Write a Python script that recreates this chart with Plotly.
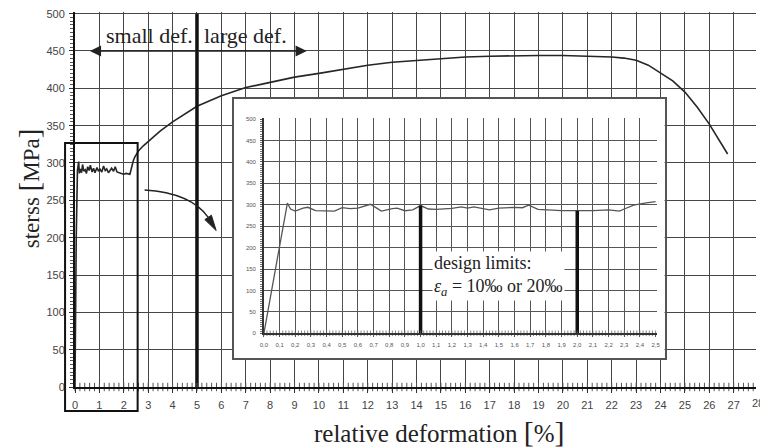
import numpy as np
import plotly.graph_objects as go

# ---------------- data ----------------
# main stress-strain curve (relative deformation in %, stress in MPa)
main_x = [0.0, 0.02, 0.05, 0.1, 0.15, 0.18, 0.22, 0.27, 0.31, 0.36, 0.42, 0.47, 0.52, 0.58,
          0.63, 0.7, 0.76, 0.82, 0.9, 0.96, 1.02, 1.1, 1.17, 1.24, 1.3, 1.37, 1.44, 1.5,
          1.58, 1.65, 1.72, 1.78, 1.9, 2.0, 2.1, 2.25, 2.32, 2.39, 2.45,
          2.6, 2.8, 3.0, 3.5, 4.0, 4.5, 5.0, 6.0, 7.0, 8.0, 9.0, 10.0, 11.0, 12.0, 13.0,
          14.0, 15.0, 16.0, 17.0, 18.0, 19.0, 20.0, 21.0, 22.0, 22.5, 23.0, 23.5, 24.0,
          24.5, 25.0, 25.5, 26.0, 26.5, 26.75]
main_y = [0, 100, 200, 290, 302, 286, 292, 287, 298, 289, 291, 286, 295, 290,
          297, 288, 293, 287, 294, 289, 292, 288, 296, 290, 292, 287, 291, 293,
          289, 295, 288, 287, 286, 285, 286, 285, 295, 303, 308,
          316, 323, 329, 343, 355, 366, 376, 390, 401, 408, 415, 420, 426, 431, 435,
          437.5, 440, 442, 443, 444, 444, 444, 443.3, 442, 440.5, 437.5, 431, 421,
          410, 395, 375, 352, 326, 312]

# inset: zoom of the first 2.5 %
inset_x = [0.0, 0.15, 0.17, 0.2, 0.25, 0.28, 0.33, 0.4, 0.45, 0.5, 0.55, 0.6, 0.65, 0.68,
           0.72, 0.75, 0.82, 0.85, 0.9, 0.95, 1.0, 1.05, 1.1, 1.15, 1.2, 1.26, 1.3, 1.34,
           1.4, 1.44, 1.5, 1.6, 1.65, 1.69, 1.75, 1.8, 1.9, 2.0, 2.1, 2.2, 2.27, 2.3,
           2.36, 2.44, 2.5]
inset_y = [0, 304, 290, 285, 292, 294, 286, 285, 285, 293, 291, 292, 298, 301,
           292, 285, 291, 292, 286, 288, 298, 290, 289, 290, 291.5, 295, 292, 295,
           290, 288, 292, 294, 293, 299, 289, 288, 286, 286, 286, 288, 285, 290,
           299, 304.5, 307]

small_large_limit = 5.0          # % boundary small / large deformation
design_limits = [1.0, 2.0]       # design limits (10 ‰, 20 ‰) in %

main_xtick_step = 1
main_ytick_step = 50
inset_xtick_step = 0.1
inset_ytick_step = 50

# ---------------- geometry helpers ----------------
W, H = 760, 447
ML, MR, MT, MB = 75, 0, 12, 60
PW, PH = W - ML - MR, H - MT - MB


def px(x):
    return (x - ML) / PW


def py(y):
    return (H - MB - y) / PH


SERIF = "Liberation Serif, Times New Roman, serif"
SANS = "Liberation Sans, Arial, sans-serif"
GRID = "#464646"

xrange_max = PW / 24.54
yrange_max = PH / 0.7467
inset_xmax = 395 / 157.6
inset_ymax = 215.3 / 0.4286

fig = go.Figure()

# main curve
fig.add_trace(go.Scatter(x=main_x, y=main_y, mode="lines",
                         line=dict(color="#262626", width=1.6),
                         xaxis="x", yaxis="y", hoverinfo="skip"))
# boundary small / large deformation
fig.add_trace(go.Scatter(x=[small_large_limit, small_large_limit], y=[0, 500], mode="lines",
                         line=dict(color="#111111", width=3.5),
                         xaxis="x", yaxis="y", hoverinfo="skip"))
# minor tick marks on the main x axis
mx = np.arange(0, xrange_max, 0.2)
fig.add_trace(go.Scatter(x=mx, y=np.zeros_like(mx), mode="markers", cliponaxis=False,
                         marker=dict(symbol="line-ns", size=6,
                                     line=dict(color="#555", width=1)),
                         xaxis="x", yaxis="y", hoverinfo="skip"))
# inset frame subplot (empty)
fig.add_trace(go.Scatter(x=[None], y=[None], mode="lines", xaxis="x2", yaxis="y2",
                         hoverinfo="skip"))
# inset curve
fig.add_trace(go.Scatter(x=inset_x, y=inset_y, mode="lines",
                         line=dict(color="#555555", width=1.3),
                         xaxis="x3", yaxis="y3", hoverinfo="skip"))
# design limit lines
for d in design_limits:
    top = float(np.interp(d, inset_x, inset_y))
    fig.add_trace(go.Scatter(x=[d, d], y=[0, top], mode="lines",
                             line=dict(color="#111111", width=3.5),
                             xaxis="x3", yaxis="y3", hoverinfo="skip"))
# minor tick marks on the inset x axis
ix = np.arange(0, 2.501, 0.02)
fig.add_trace(go.Scatter(x=ix, y=np.zeros_like(ix), mode="markers", cliponaxis=False,
                         marker=dict(symbol="line-ns", size=4,
                                     line=dict(color="#666", width=0.8)),
                         xaxis="x3", yaxis="y3", hoverinfo="skip"))

# ---------------- axes ----------------
fig.update_layout(
    width=W, height=H,
    margin=dict(l=ML, r=MR, t=MT, b=MB),
    paper_bgcolor="white", plot_bgcolor="white",
    showlegend=False,
    separators=",.",
    xaxis=dict(domain=[0, 1], range=[0, xrange_max], tickmode="linear", tick0=0,
               dtick=main_xtick_step,
               showgrid=True, gridcolor=GRID, gridwidth=1.3, zeroline=False,
               showline=True, linecolor="#111", linewidth=2,
               ticks="outside", ticklen=4, tickcolor="#333", ticklabelstandoff=3,
               tickfont=dict(family=SANS, size=11, color="#444"), anchor="y"),
    yaxis=dict(domain=[0, 1], range=[0, yrange_max], tickmode="linear", tick0=0,
               dtick=main_ytick_step,
               showgrid=True, gridcolor=GRID, gridwidth=1.3, zeroline=False,
               showline=True, linecolor="#111", linewidth=2,
               ticks="outside", ticklen=4, tickcolor="#333", ticklabelstandoff=2,
               minor=dict(dtick=5, ticks="outside", ticklen=3, tickcolor="#555", showgrid=False),
               tickfont=dict(family=SANS, size=11, color="#444"), anchor="x"),
    # inset frame
    xaxis2=dict(domain=[px(235), px(668)], range=[0, 1], showgrid=False, zeroline=False,
                showline=True, mirror=True, linecolor="#555", linewidth=2,
                showticklabels=False, ticks="", anchor="y2"),
    yaxis2=dict(domain=[py(358), py(99)], range=[0, 1], showgrid=False, zeroline=False,
                showline=True, mirror=True, linecolor="#555", linewidth=2,
                showticklabels=False, ticks="", anchor="x2"),
    # inset plot
    xaxis3=dict(domain=[px(265), px(660)], range=[0, inset_xmax], tickmode="linear",
                tick0=0, dtick=inset_xtick_step,
                tickformat=".1f", showgrid=True, gridcolor="#555", gridwidth=1,
                zeroline=False, showline=True, linecolor="#333", linewidth=1.5,
                ticks="outside", ticklen=2, tickcolor="#555", ticklabelstandoff=3,
                tickfont=dict(family=SANS, size=6, color="#555"), anchor="y3"),
    yaxis3=dict(domain=[py(333.3), py(118)], range=[0, inset_ymax], tickmode="linear",
                tick0=0, dtick=inset_ytick_step,
                showgrid=True, gridcolor="#555", gridwidth=1,
                zeroline=False, showline=True, linecolor="#333", linewidth=1.5,
                ticks="outside", ticklen=2, tickcolor="#555", ticklabelstandoff=3,
                minor=dict(dtick=5, ticks="outside", ticklen=2, tickcolor="#777", showgrid=False),
                tickfont=dict(family=SANS, size=6, color="#555"), anchor="x3"),
)

# ---------------- shapes ----------------
shapes = []
# zoom box around the first 2.5 %
shapes.append(dict(type="rect", xref="paper", yref="paper",
                   x0=px(65), x1=px(138), y0=py(411), y1=py(143),
                   line=dict(color="#111", width=2), fillcolor="rgba(0,0,0,0)", layer="above"))
# curved arrow from zoom box to inset
sx, sy = 145, 190
cx, cy = 192, 193
ex, ey = 209, 217.4
shapes.append(dict(type="path", xref="paper", yref="paper",
                   path=f"M {px(sx)},{py(sy)} Q {px(cx)},{py(cy)} {px(ex)},{py(ey)}",
                   line=dict(color="#222", width=1.4), layer="above"))
tip = (217, 230.5)
b1 = (212.2, 215.2)
b2 = (205.6, 219.6)
shapes.append(dict(type="path", xref="paper", yref="paper",
                   path=f"M {px(tip[0])},{py(tip[1])} L {px(b1[0])},{py(b1[1])} "
                        f"L {px(b2[0])},{py(b2[1])} Z",
                   line=dict(color="#222", width=1), fillcolor="#222", layer="above"))
fig.update_layout(shapes=shapes)

# ---------------- annotations ----------------
ann = []
# small / large deformation arrows
for tipx in (0.61, 9.5):
    ann.append(dict(x=tipx, y=450, xref="x", yref="y", ax=small_large_limit, ay=450,
                    axref="x", ayref="y", text="", showarrow=True, arrowhead=2,
                    arrowsize=1.6, arrowwidth=1.4, arrowcolor="#222"))
ann.append(dict(x=3.06, y=471, xref="x", yref="y", text="small def.", showarrow=False,
                font=dict(family=SERIF, size=22, color="#222"), xanchor="center", yanchor="middle"))
ann.append(dict(x=7.0, y=471, xref="x", yref="y", text="large def.", showarrow=False,
                font=dict(family=SERIF, size=22, color="#222"), xanchor="center", yanchor="middle"))
# axis titles
ann.append(dict(x=px(441), y=py(431), xref="paper", yref="paper",
                text='relative deformation <span style="font-size:30px">[</span>%'
                     '<span style="font-size:30px">]</span>',
                showarrow=False, font=dict(family=SERIF, size=25, color="#222"),
                xanchor="center", yanchor="middle"))
ann.append(dict(x=px(29), y=py(188), xref="paper", yref="paper",
                text='sterss <span style="font-size:29px">[</span>MPa'
                     '<span style="font-size:29px">]</span>',
                textangle=-90, showarrow=False, font=dict(family=SERIF, size=23, color="#222"),
                xanchor="center", yanchor="middle"))
# clipped last tick label
ann.append(dict(x=(28 * 24.54) / PW, y=py(403), xref="paper", yref="paper", text="28",
                showarrow=False, font=dict(family=SANS, size=11, color="#444"),
                xanchor="center", yanchor="middle"))
# design limits label
ann.append(dict(x=1.5, y=134, xref="x3", yref="y3",
                text="design limits:<br><i>ε</i><sub><i>a</i></sub> = 10‰ or 20‰",
                showarrow=False, align="left", bgcolor="white", borderpad=1,
                font=dict(family=SERIF, size=18, color="#222"),
                xanchor="center", yanchor="middle"))
fig.update_layout(annotations=ann)

fig.write_html("out.html", config={"displayModeBar": False},
               post_script="document.body.style.margin='0px';"
                           "document.body.style.overflow='hidden';")
